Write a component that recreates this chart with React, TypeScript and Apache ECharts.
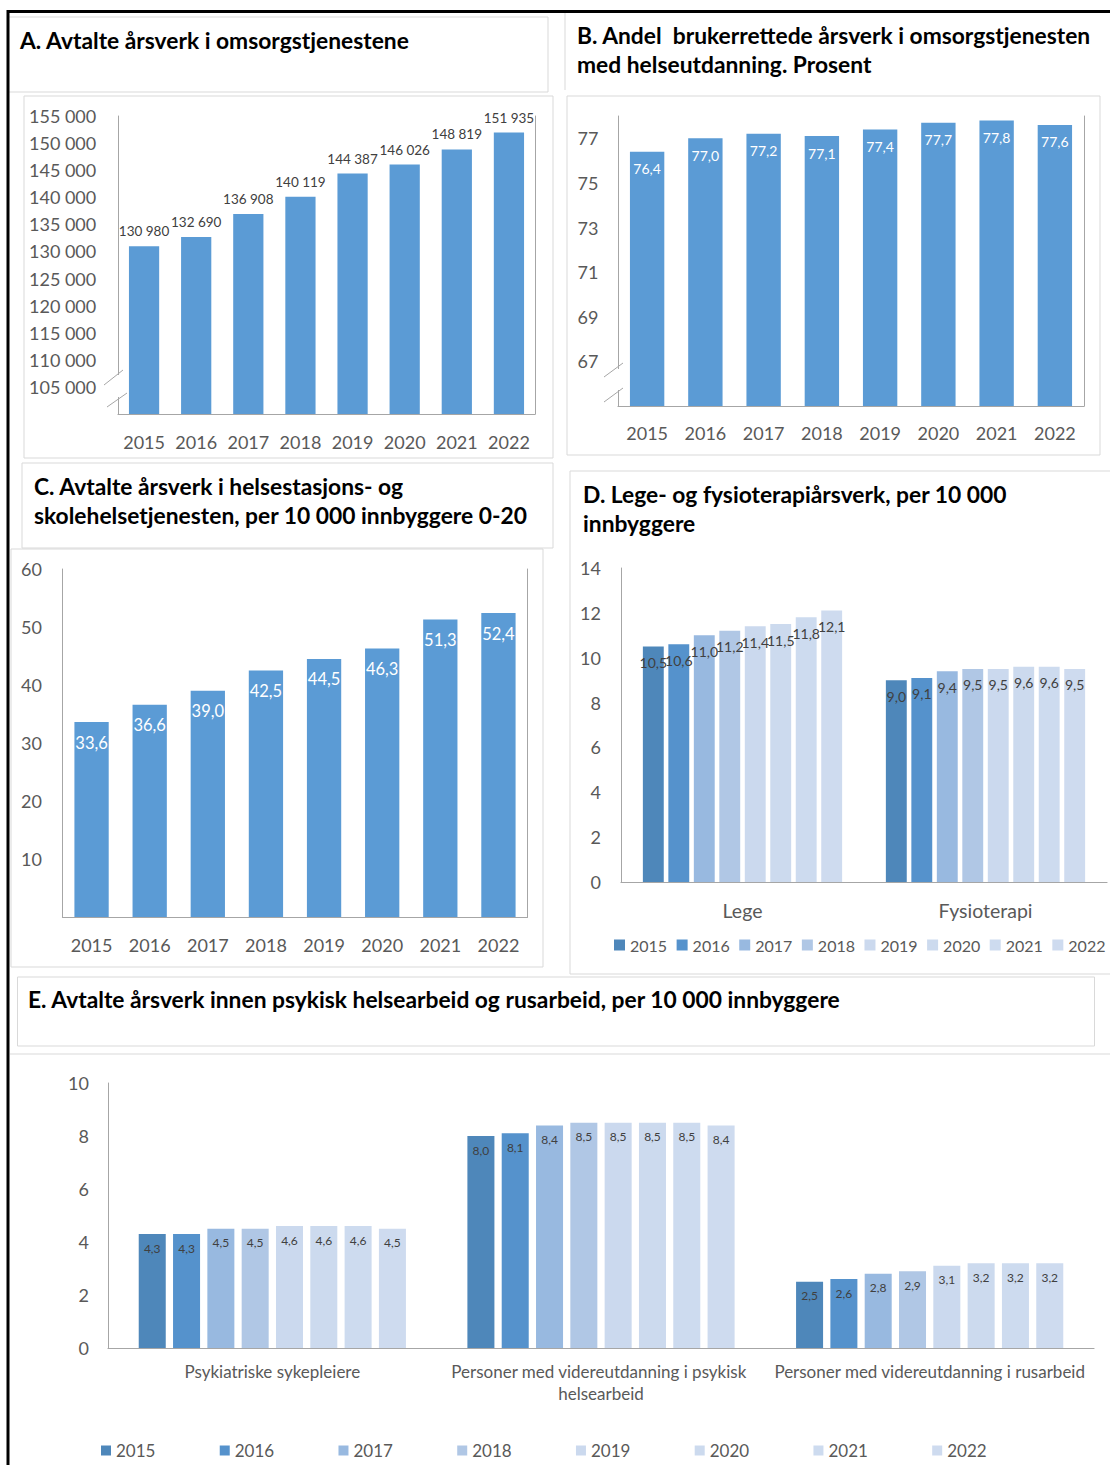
import React, { useEffect, useRef } from 'react';
import * as echarts from 'echarts';

const years = ['2015', '2016', '2017', '2018', '2019', '2020', '2021', '2022'];
const aValues = [130980, 132690, 136908, 140119, 144387, 146026, 148819, 151935];
const bValues = [76.4, 77.0, 77.2, 77.1, 77.4, 77.7, 77.8, 77.6];
const cValues = [33.6, 36.6, 39.0, 42.5, 44.5, 46.3, 51.3, 52.4];
const dCategories = ['Lege', 'Fysioterapi'];
const dLege = [10.5, 10.6, 11.0, 11.2, 11.4, 11.5, 11.8, 12.1];
const dFysio = [9.0, 9.1, 9.4, 9.5, 9.5, 9.6, 9.6, 9.5];
const eCategories = [
  'Psykiatriske sykepleiere',
  'Personer med videreutdanning i psykisk helsearbeid',
  'Personer med videreutdanning i rusarbeid',
];
const ePsyk = [4.3, 4.3, 4.5, 4.5, 4.6, 4.6, 4.6, 4.5];
const eVidPsyk = [8.0, 8.1, 8.4, 8.5, 8.5, 8.5, 8.5, 8.4];
const eRus = [2.5, 2.6, 2.8, 2.9, 3.1, 3.2, 3.2, 3.2];
const yearColors = ['#4e87ba', '#5592cc', '#98b9e0', '#b0c7e5', '#cbd9ee', '#ccdaee', '#cddbef', '#cedbef'];

const titleA = ['A. Avtalte årsverk i omsorgstjenestene'];
const titleB = ['B. Andel  brukerrettede årsverk i omsorgstjenesten', 'med helseutdanning. Prosent'];
const titleC = ['C. Avtalte årsverk i helsestasjons- og', 'skolehelsetjenesten, per 10 000 innbyggere 0-20'];
const titleD = ['D. Lege- og fysioterapiårsverk, per 10 000', 'innbyggere'];
const titleE = ['E. Avtalte årsverk innen psykisk helsearbeid og rusarbeid, per 10 000 innbyggere'];

const FONT = 'Lato';
const LABEL = '#595959';
const DARK = '#404040';
const BLUE = '#5b9bd5';
const BOX = '#d9d9d9';
const AXIS = '#a6a6a6';

const fmtThousands = (v: number) => String(v).replace(/\B(?=(\d{3})+(?!\d))/g, ' ');
const fmtComma = (v: number) => v.toFixed(1).replace('.', ',');

function titleTexts(lines: string[], x: number, y0: number, dy: number) {
  return lines.map((t, i) => ({
    type: 'text',
    x,
    y: y0 + i * dy,
    z: 50,
    style: { text: t, fill: '#000', fontSize: 22.8, fontWeight: 'bold', fontFamily: FONT, verticalAlign: 'middle' },
  }));
}

function rect(x: number, y: number, w: number, h: number, stroke = BOX) {
  return { type: 'rect', z: 1, shape: { x, y, width: w, height: h }, style: { fill: 'none', stroke, lineWidth: 1 } };
}
function line(x1: number, y1: number, x2: number, y2: number, stroke = BOX, lw = 1, z = 1) {
  return { type: 'line', z, shape: { x1, y1, x2, y2 }, style: { stroke, lineWidth: lw } };
}

export default function App() {
  const ref = useRef<HTMLDivElement>(null);
  useEffect(() => {
    if (!ref.current) return;
    const chart = echarts.init(ref.current, undefined, { renderer: 'svg' });

    const catAxis = (gridIndex: number, data: string[], margin: number, extra: any = {}) => ({
      type: 'category',
      gridIndex,
      data,
      axisTick: { show: false },
      axisLine: { show: true, lineStyle: { color: AXIS, width: 1.2 } },
      axisLabel: { color: LABEL, fontSize: 18, fontFamily: FONT, margin, interval: 0, ...extra },
    });
    const valAxis = (gridIndex: number, min: number, max: number, interval: number, formatter: any, labelExtra: any = {}, extra: any = {}) => ({
      type: 'value',
      gridIndex,
      min,
      max,
      interval,
      splitLine: { show: false },
      axisTick: { show: false },
      axisLine: { show: true, lineStyle: { color: AXIS, width: 1 } },
      axisLabel: { color: LABEL, fontSize: 18, fontFamily: FONT, formatter, ...labelExtra },
      ...extra,
    });
    const rightAxis = (gridIndex: number) => ({
      type: 'value',
      gridIndex,
      position: 'right',
      min: 0,
      max: 1,
      splitLine: { show: false },
      axisTick: { show: false },
      axisLabel: { show: false },
      axisLine: { show: true, lineStyle: { color: AXIS, width: 1 } },
    });

    const dSeries = years.map((y, i) => ({
      name: y,
      type: 'bar',
      xAxisIndex: 3,
      yAxisIndex: 3,
      data: [dLege[i], dFysio[i]],
      barGap: '22%',
      barCategoryGap: '18%',
      itemStyle: { color: yearColors[i] },
      label: {
        show: true,
        position: 'insideTop',
        distance: 9,
        fontSize: 14,
        color: DARK,
        fontFamily: FONT,
        formatter: (p: any) => fmtComma(p.value),
      },
    }));
    const eSeries = years.map((y, i) => ({
      name: y,
      type: 'bar',
      xAxisIndex: 4,
      yAxisIndex: 4,
      data: [ePsyk[i], eVidPsyk[i], eRus[i]],
      barGap: '27%',
      barCategoryGap: '18.7%',
      itemStyle: { color: yearColors[i] },
      label: {
        show: true,
        position: 'insideTop',
        distance: 8,
        fontSize: 12,
        color: DARK,
        fontFamily: FONT,
        formatter: (p: any) => fmtComma(p.value),
      },
    }));

    const option: any = {
      animation: false,
      backgroundColor: '#ffffff',
      textStyle: { fontFamily: FONT },
      grid: [
        { left: 118, top: 116, width: 417, height: 298, containLabel: false, outerBoundsMode: 'none' },
        { left: 618, top: 116, width: 466, height: 290, containLabel: false, outerBoundsMode: 'none' },
        { left: 62.5, top: 569, width: 465, height: 348, containLabel: false, outerBoundsMode: 'none' },
        { left: 621, top: 568, width: 486, height: 314, containLabel: false, outerBoundsMode: 'none' },
        { left: 108, top: 1083, width: 986, height: 265, containLabel: false, outerBoundsMode: 'none' },
      ],
      xAxis: [
        catAxis(0, years, 18.5),
        catAxis(1, years, 18),
        catAxis(2, years, 19),
        catAxis(3, dCategories, 18.5, { fontSize: 19.5 }),
        catAxis(4, eCategories, 13, { fontSize: 17, lineHeight: 21.5, width: 335, overflow: 'break' }),
      ],
      yAxis: [
        valAxis(0, 100000, 155000, 5000, (v: number) => (v === 100000 ? '' : fmtThousands(v)), { align: 'left', margin: 89 }, { startValue: 100000 }),
        valAxis(1, 65, 78, 2, (v: number) => (v === 65 || v === 78 ? '' : String(v)), { align: 'left', margin: 40.5 }, { startValue: 65 }),
        valAxis(2, 0, 60, 10, (v: number) => (v === 0 ? '' : String(v)), { align: 'left', margin: 41.5 }),
        valAxis(3, 0, 14, 2, (v: number) => String(v), { margin: 20 }),
        valAxis(4, 0, 10, 2, (v: number) => String(v), { margin: 19 }),
        rightAxis(0),
        rightAxis(1),
        rightAxis(2),
      ],
      legend: [
        {
          data: years,
          left: 614,
          top: 937,
          padding: 0,
          icon: 'rect',
          itemWidth: 11,
          itemHeight: 11,
          itemGap: 9.5,
          textStyle: { color: LABEL, fontSize: 16, fontFamily: FONT },
        },
        {
          data: years,
          left: 101,
          top: 1442,
          padding: 0,
          icon: 'rect',
          itemWidth: 10,
          itemHeight: 10,
          itemGap: 64.3,
          textStyle: { color: LABEL, fontSize: 17, fontFamily: FONT },
        },
      ],
      series: [
        {
          type: 'bar',
          xAxisIndex: 0,
          yAxisIndex: 0,
          data: aValues,
          barWidth: '58%',
          clip: true,
          itemStyle: { color: BLUE },
          label: {
            show: true,
            position: 'top',
            distance: 8,
            fontSize: 13.5,
            color: DARK,
            fontFamily: FONT,
            formatter: (p: any) => fmtThousands(p.value),
          },
        },
        {
          type: 'bar',
          xAxisIndex: 1,
          yAxisIndex: 1,
          data: bValues,
          barWidth: '59%',
          clip: true,
          itemStyle: { color: BLUE },
          label: {
            show: true,
            position: 'insideTop',
            distance: 10,
            fontSize: 14,
            color: '#ffffff',
            fontFamily: FONT,
            formatter: (p: any) => fmtComma(p.value),
          },
        },
        {
          type: 'bar',
          xAxisIndex: 2,
          yAxisIndex: 2,
          data: cValues,
          barWidth: '59%',
          itemStyle: { color: BLUE },
          label: {
            show: true,
            position: 'insideTop',
            distance: 12,
            fontSize: 16.5,
            color: '#ffffff',
            fontFamily: FONT,
            formatter: (p: any) => fmtComma(p.value),
          },
        },
        ...dSeries,
        ...eSeries,
      ],
      graphic: {
        elements: [
          rect(8, 17, 540, 75),
          rect(24, 96, 529, 362),
          line(565, 13, 565, 90),
          rect(567, 96, 533, 359),
          rect(22, 463, 531, 85),
          rect(11, 549, 532, 418),
          rect(570, 471, 560, 503),
          rect(17.5, 977, 1077, 69),
          line(10, 1054, 1110, 1054),
          line(7, 11.5, 1110, 11.5, '#000000', 3, 60),
          line(8, 10, 8, 1465, '#000000', 3, 60),
          { type: 'rect', z: 40, shape: { x: 116, y: 375, width: 5, height: 22 }, style: { fill: '#ffffff' } },
          line(104, 385, 123, 370, AXIS, 1, 41),
          line(107, 407, 127, 393, AXIS, 1, 41),
          { type: 'rect', z: 40, shape: { x: 616, y: 369, width: 5, height: 21 }, style: { fill: '#ffffff' } },
          line(604, 377, 623, 363, AXIS, 1, 41),
          line(604, 402, 623, 388, AXIS, 1, 41),
          ...titleTexts(titleA, 20, 40, 0),
          ...titleTexts(titleB, 577, 35, 29),
          ...titleTexts(titleC, 34, 486, 29),
          ...titleTexts(titleD, 583, 494, 29),
          ...titleTexts(titleE, 28, 999, 0),
        ],
      },
    };

    chart.setOption(option);
    return () => chart.dispose();
  }, []);

  return <div ref={ref} style={{ position: 'absolute', left: 0, top: 0, width: 1110, height: 1465 }} />;
}
